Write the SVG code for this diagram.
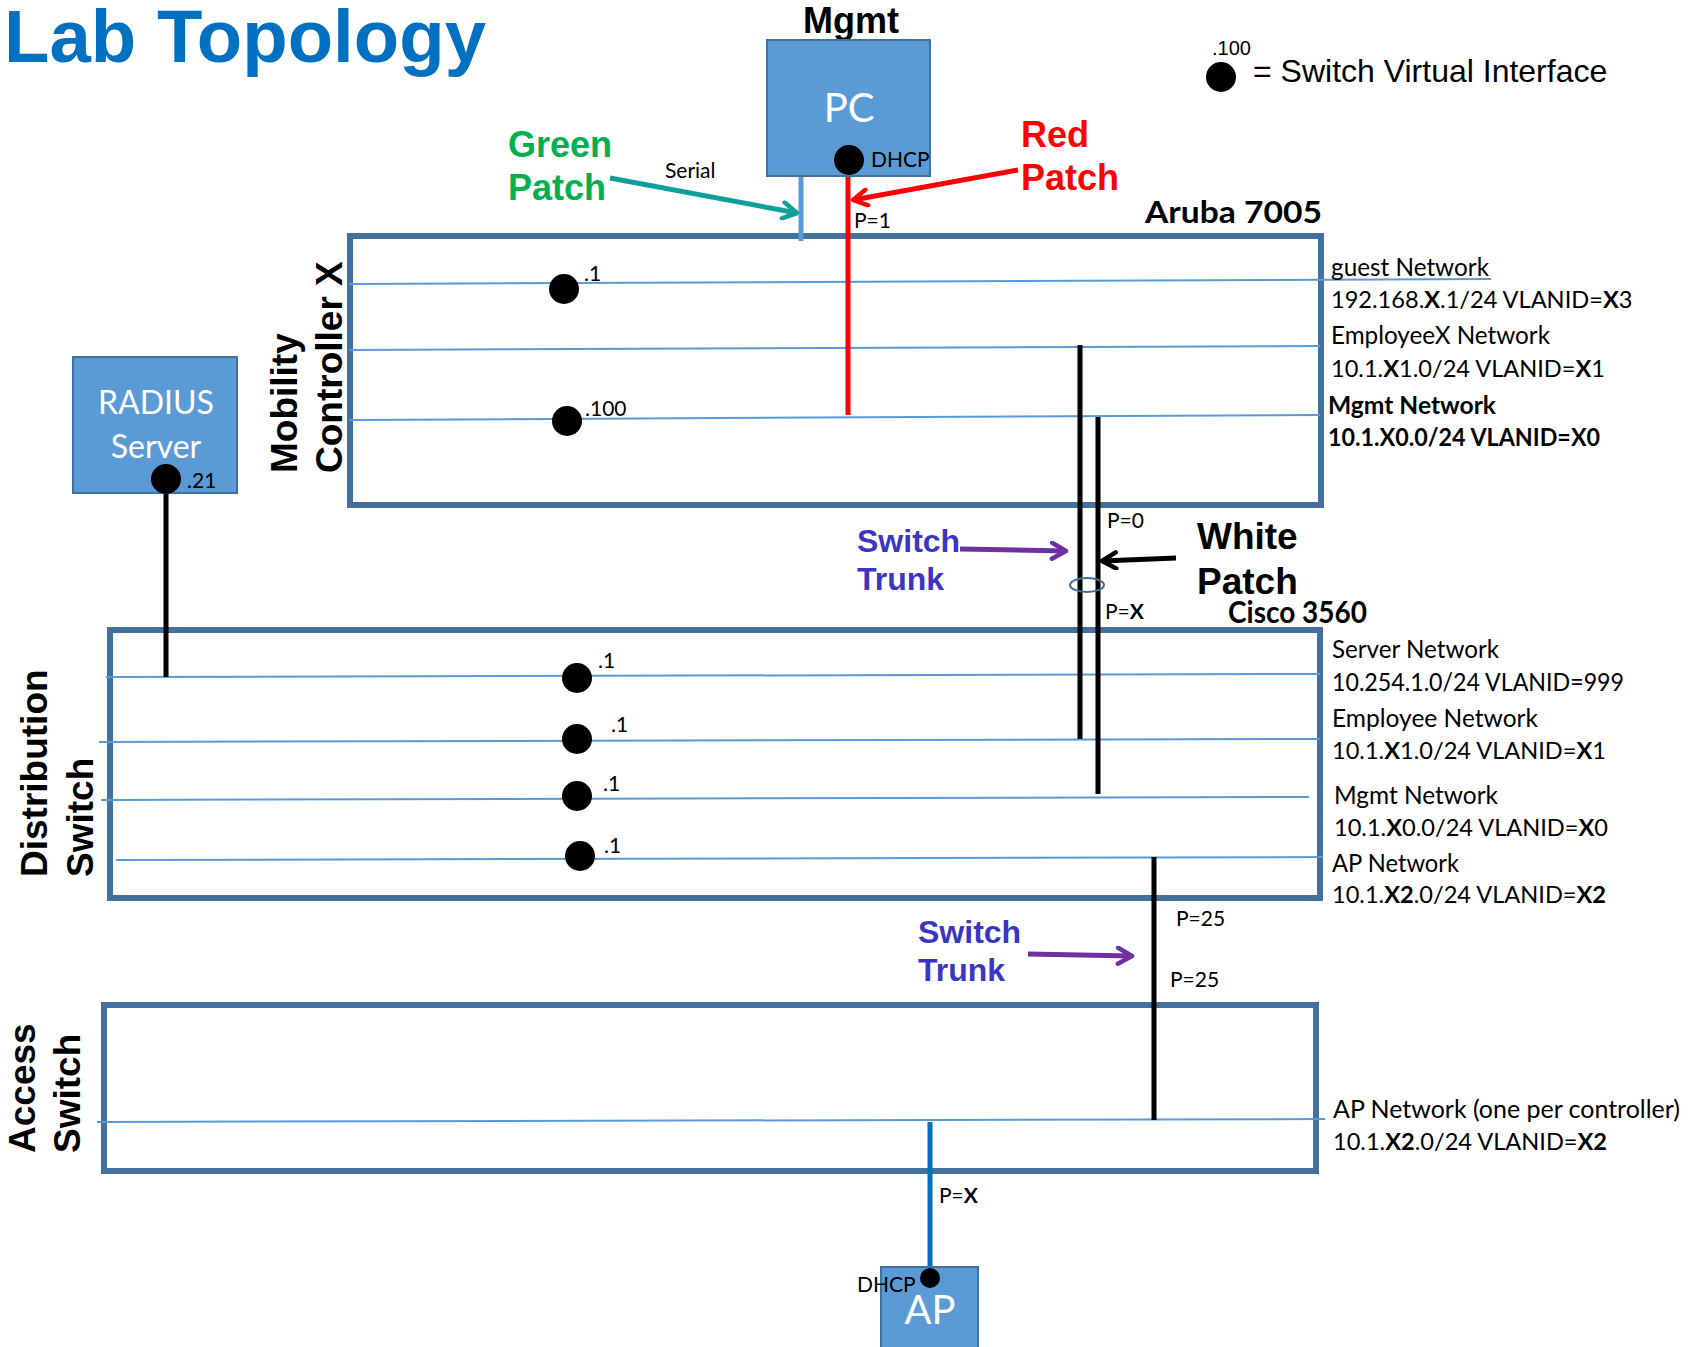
<svg xmlns="http://www.w3.org/2000/svg" width="1694" height="1347" viewBox="0 0 1694 1347">
<defs>
<style>
.box{fill:#fff;stroke:#41719C;stroke-width:6}
.dev{fill:#5B9BD5;stroke:#41719C;stroke-width:2}
.vlan{stroke:#5B9BD5;stroke-width:2;fill:none}
.svi{fill:#000}
.head{font-family:"Liberation Sans",Arial,sans-serif;font-weight:bold}
.lbl{font-family:Lato,"Open Sans",sans-serif;font-size:25px;fill:#000}
.net{font-family:Lato,"Open Sans",sans-serif;font-size:23.6px;fill:#000}
.sm{font-family:Lato,"Open Sans",sans-serif;font-size:21px;fill:#000}
.devtxt{font-family:Lato,"Open Sans",sans-serif;fill:#fff;text-anchor:middle}
.model{font-family:Lato,"Open Sans",sans-serif;font-weight:bold;fill:#000}
.b{font-weight:bold}
.wire{fill:none;stroke:#000;stroke-width:5}
.trunk{fill:#3B35C3;font-size:32px}
</style>
<marker id="ah-green" viewBox="0 0 20 20" refX="17" refY="10" markerWidth="20" markerHeight="20" markerUnits="userSpaceOnUse" orient="auto"><path d="M3,2 L17,10 L3,18" fill="none" stroke="#0E9F9B" stroke-width="4.5" stroke-linecap="round" stroke-linejoin="round"/></marker>
<marker id="ah-red" viewBox="0 0 20 20" refX="17" refY="10" markerWidth="20" markerHeight="20" markerUnits="userSpaceOnUse" orient="auto"><path d="M3,2 L17,10 L3,18" fill="none" stroke="#FF0000" stroke-width="4.5" stroke-linecap="round" stroke-linejoin="round"/></marker>
<marker id="ah-purple" viewBox="0 0 20 20" refX="17" refY="10" markerWidth="20" markerHeight="20" markerUnits="userSpaceOnUse" orient="auto"><path d="M3,2 L17,10 L3,18" fill="none" stroke="#7030A0" stroke-width="4.5" stroke-linecap="round" stroke-linejoin="round"/></marker>
<marker id="ah-black" viewBox="0 0 20 20" refX="17" refY="10" markerWidth="20" markerHeight="20" markerUnits="userSpaceOnUse" orient="auto"><path d="M3,2 L17,10 L3,18" fill="none" stroke="#000" stroke-width="4.5" stroke-linecap="round" stroke-linejoin="round"/></marker>
</defs>
<rect width="1694" height="1347" fill="#fff"/>

<text id="title" class="head" x="4" y="62" font-size="74" fill="#0070C0" textLength="482" lengthAdjust="spacingAndGlyphs">Lab Topology</text>

<g id="legend">
<circle class="svi" cx="1221" cy="77" r="15"/>
<text x="1212" y="55" font-family="Liberation Sans, Arial, sans-serif" font-size="20">.100</text>
<text x="1253" y="82" font-family="Liberation Sans, Arial, sans-serif" font-size="32">= Switch Virtual Interface</text>
</g>

<g id="mobility-controller">
<rect class="box" x="350" y="236" width="971" height="269"/>
<path class="vlan" d="M349,284 L1491,279"/>
<path class="vlan" d="M349,350 L1320,346"/>
<path class="vlan" d="M349,420 L1320,415"/>
<circle class="svi" cx="564" cy="289" r="15"/>
<text class="sm" x="584" y="281">.1</text>
<circle class="svi" cx="567" cy="421" r="15"/>
<text class="sm" x="585" y="416">.100</text>
<text class="model" x="1145" y="223" font-size="31" textLength="177" lengthAdjust="spacingAndGlyphs">Aruba 7005</text>
<text class="head" font-size="37" transform="translate(297,473) rotate(-90)">Mobility</text>
<text class="head" font-size="37" transform="translate(342,473) rotate(-90)">Controller X</text>
<text class="lbl" x="1331" y="276" textLength="158" lengthAdjust="spacingAndGlyphs">guest Network</text>
<text class="net" x="1331" y="308">192.168.<tspan class="b">X</tspan>.1/24 VLANID=<tspan class="b">X</tspan>3</text>
<text class="lbl" x="1331" y="344" textLength="219" lengthAdjust="spacingAndGlyphs">EmployeeX Network</text>
<text class="net" x="1331" y="377">10.1.<tspan class="b">X</tspan>1.0/24 VLANID=<tspan class="b">X</tspan>1</text>
<text class="lbl b" x="1328" y="414" textLength="168" lengthAdjust="spacingAndGlyphs">Mgmt Network</text>
<text class="lbl b" x="1328" y="446" textLength="272" lengthAdjust="spacingAndGlyphs">10.1.X0.0/24 VLANID=X0</text>
</g>

<g id="distribution-switch">
<rect class="box" x="110" y="630" width="1210" height="268"/>
<path class="vlan" d="M106,677 L1320,674"/>
<path class="vlan" d="M99,742 L1320,739"/>
<path class="vlan" d="M101,800 L1309,797"/>
<path class="vlan" d="M116,860 L1323,857"/>
<circle class="svi" cx="577" cy="678" r="15"/>
<text class="sm" x="598" y="668">.1</text>
<circle class="svi" cx="577" cy="739" r="15"/>
<text class="sm" x="611" y="732">.1</text>
<circle class="svi" cx="577" cy="796" r="15"/>
<text class="sm" x="603" y="791">.1</text>
<circle class="svi" cx="580" cy="856" r="15"/>
<text class="sm" x="604" y="853">.1</text>
<text class="model" x="1228" y="623" font-size="30" textLength="139" lengthAdjust="spacingAndGlyphs">Cisco 3560</text>
<text class="head" font-size="37" transform="translate(47,877) rotate(-90)">Distribution</text>
<text class="head" font-size="37" transform="translate(93,877) rotate(-90)">Switch</text>
<text class="lbl" x="1332" y="658" textLength="167" lengthAdjust="spacingAndGlyphs">Server Network</text>
<text class="lbl" x="1332" y="691" textLength="292" lengthAdjust="spacingAndGlyphs">10.254.1.0/24 VLANID=999</text>
<text class="lbl" x="1332" y="727" textLength="206" lengthAdjust="spacingAndGlyphs">Employee Network</text>
<text class="net" x="1332" y="759">10.1.<tspan class="b">X</tspan>1.0/24 VLANID=<tspan class="b">X</tspan>1</text>
<text class="lbl" x="1334" y="804" textLength="164" lengthAdjust="spacingAndGlyphs">Mgmt Network</text>
<text class="net" x="1334" y="836">10.1.<tspan class="b">X</tspan>0.0/24 VLANID=<tspan class="b">X</tspan>0</text>
<text class="lbl" x="1332" y="872" textLength="127" lengthAdjust="spacingAndGlyphs">AP Network</text>
<text class="net" x="1332" y="903">10.1.<tspan class="b">X2</tspan>.0/24 VLANID=<tspan class="b">X2</tspan></text>
</g>

<g id="access-switch">
<rect class="box" x="104" y="1005" width="1212" height="166"/>
<path class="vlan" d="M97,1122 L1325,1119"/>
<text class="head" font-size="37" transform="translate(35,1153) rotate(-90)">Access</text>
<text class="head" font-size="37" transform="translate(80,1153) rotate(-90)">Switch</text>
<text class="lbl" x="1333" y="1118" textLength="347" lengthAdjust="spacingAndGlyphs">AP Network (one per controller)</text>
<text class="net" x="1333" y="1150">10.1.<tspan class="b">X2</tspan>.0/24 VLANID=<tspan class="b">X2</tspan></text>
</g>

<g id="connectors">
<line x1="801" y1="176" x2="801" y2="241" stroke="#5B9BD5" stroke-width="5"/>
<line x1="848" y1="170" x2="848" y2="415" stroke="#FF0000" stroke-width="5"/>
<line class="wire" x1="166" y1="490" x2="166" y2="677"/>
<line class="wire" x1="1080" y1="345" x2="1080" y2="739"/>
<line class="wire" x1="1098" y1="417" x2="1098" y2="794"/>
<ellipse cx="1087" cy="585" rx="17" ry="7" fill="none" stroke="#41719C" stroke-width="2"/>
<line class="wire" x1="1154" y1="857" x2="1154" y2="1120"/>
<line x1="930" y1="1122" x2="930" y2="1268" stroke="#0070C0" stroke-width="5"/>
<text class="sm" x="665" y="178" font-size="22">Serial</text>
<text class="sm" x="854" y="228">P=1</text>
<text class="sm" x="1107" y="528">P=0</text>
<text class="sm" x="1105" y="619">P=<tspan class="b">X</tspan></text>
<text class="sm" x="1176" y="926">P=25</text>
<text class="sm" x="1170" y="987">P=25</text>
<text class="sm" x="939" y="1203">P=<tspan class="b">X</tspan></text>
</g>

<g id="pc">
<text class="head" x="803" y="33" font-size="36">Mgmt</text>
<rect class="dev" x="767" y="40" width="163" height="136"/>
<text class="devtxt" x="849" y="122" font-size="40">PC</text>
<circle class="svi" cx="849" cy="160" r="15"/>
<text class="sm" x="871" y="167">DHCP</text>
</g>

<g id="radius-server">
<rect class="dev" x="73" y="357" width="164" height="136"/>
<text class="devtxt" x="156" y="414" font-size="32">RADIUS</text>
<text class="devtxt" x="156" y="458" font-size="32">Server</text>
<circle class="svi" cx="166" cy="479" r="15"/>
<text class="sm" x="187" y="488">.21</text>
</g>

<g id="ap">
<rect class="dev" x="881" y="1267" width="97" height="100"/>
<text class="devtxt" x="930" y="1324" font-size="40">AP</text>
<circle class="svi" cx="930" cy="1278" r="10"/>
<text class="sm" x="857" y="1292">DHCP</text>
</g>

<g id="annotations">
<line x1="610" y1="178" x2="797" y2="213" stroke="#0E9F9B" stroke-width="5" marker-end="url(#ah-green)"/>
<text class="head" x="508" y="157" font-size="36" fill="#00B050">Green</text>
<text class="head" x="508" y="200" font-size="36" fill="#00B050">Patch</text>
<line x1="1018" y1="170" x2="853" y2="200" stroke="#FF0000" stroke-width="5" marker-end="url(#ah-red)"/>
<text class="head" x="1021" y="147" font-size="36" fill="#FF0000">Red</text>
<text class="head" x="1021" y="190" font-size="36" fill="#FF0000">Patch</text>
<line x1="1176" y1="558" x2="1102" y2="561" stroke="#000" stroke-width="5" marker-end="url(#ah-black)"/>
<text class="head" x="1197" y="549" font-size="37">White</text>
<text class="head" x="1197" y="594" font-size="37">Patch</text>
<line x1="960" y1="549" x2="1066" y2="551" stroke="#7030A0" stroke-width="5" marker-end="url(#ah-purple)"/>
<text class="head trunk" x="857" y="552">Switch</text>
<text class="head trunk" x="857" y="590">Trunk</text>
<line x1="1028" y1="954" x2="1132" y2="956" stroke="#7030A0" stroke-width="5" marker-end="url(#ah-purple)"/>
<text class="head trunk" x="918" y="943">Switch</text>
<text class="head trunk" x="918" y="981">Trunk</text>
</g>
</svg>
